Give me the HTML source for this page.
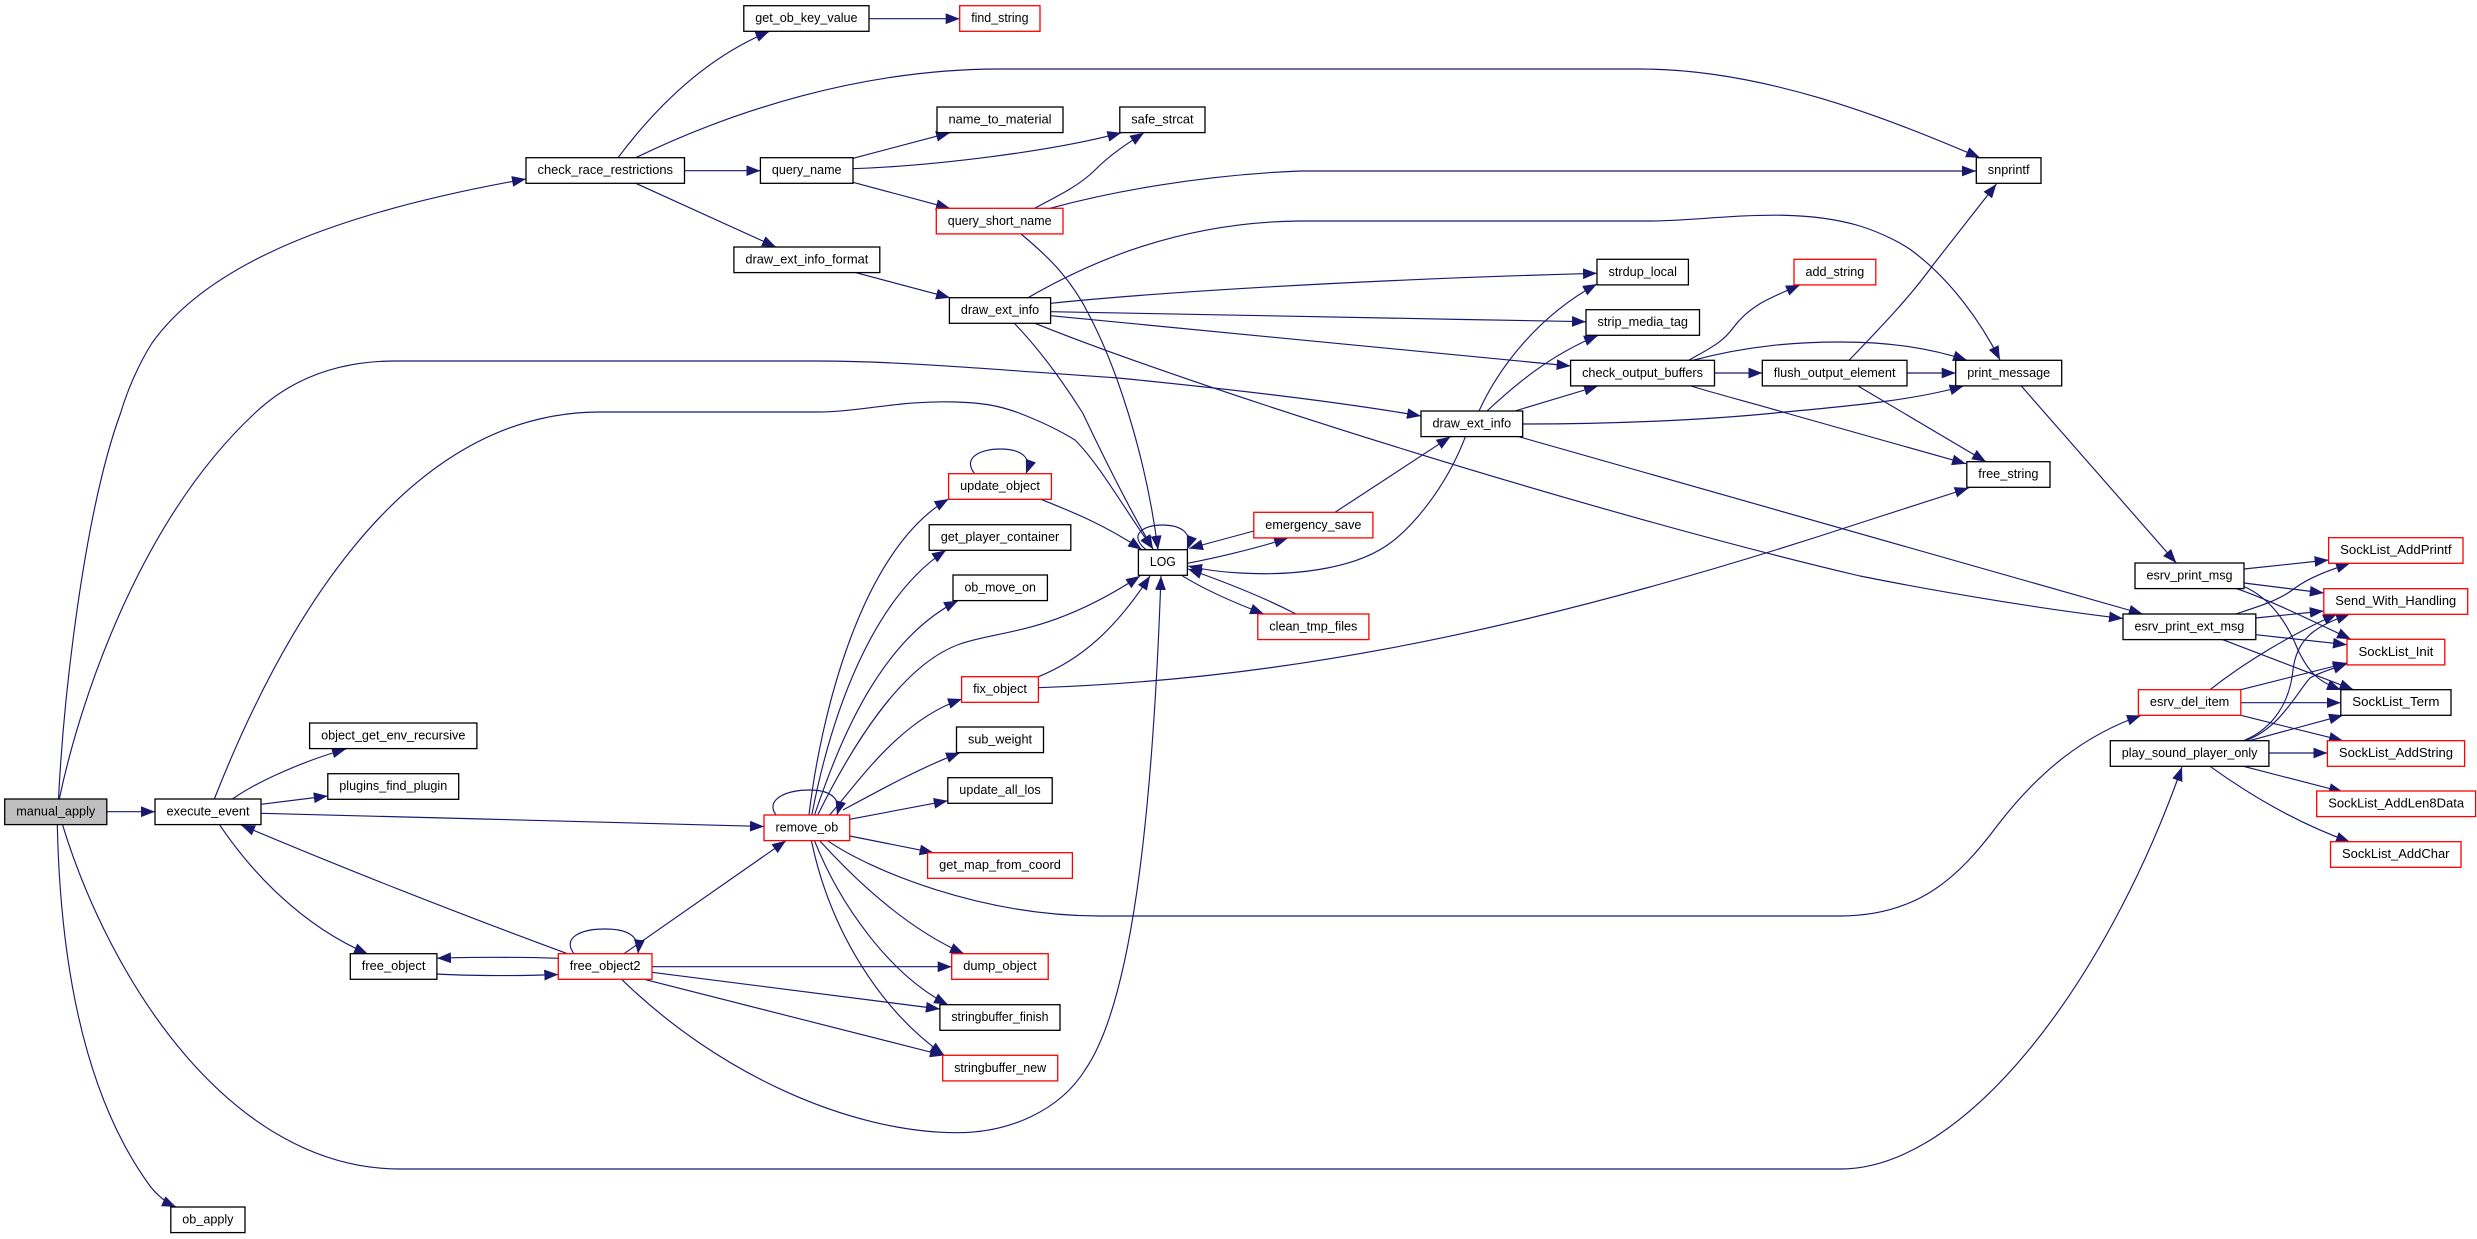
<!DOCTYPE html>
<html><head><meta charset="utf-8"><title>manual_apply call graph</title>
<style>
html,body{margin:0;padding:0;background:#fff}
svg{display:block}
.n rect{fill:#fff;stroke:#000;stroke-width:1.3}
.n rect.r{stroke:#f00}
.n rect.g{fill:#bfbfbf}
.n text{font-family:"Liberation Sans",sans-serif;font-size:13px;fill:#000}
</style></head><body>
<svg xmlns="http://www.w3.org/2000/svg" width="2477" height="1239" viewBox="0 0 2477 1239">
<defs><marker id="a" markerUnits="userSpaceOnUse" markerWidth="15" markerHeight="12" refX="14" refY="5.4" orient="auto"><polygon points="0,0 14,5.4 0,10.8" fill="#191970"/></marker></defs>
<rect width="2477" height="1239" fill="#fff"/>
<g fill="none" stroke="#191970" stroke-width="1.15" marker-end="url(#a)">
<path d="M58.5,799C64,690 85,510 120.6,413C128,388 140,362 152,343C210,262 340,212 526,179"/>
<path d="M59.3,799C80,700 140,520 255,413C290,380 335,361 395,361L817,361C900,361 1000,370 1118,378C1240,390 1340,402 1421,416"/>
<path d="M106.8,811.7L155,811.7"/>
<path d="M57.3,824.7C60,950 80,1090 150,1186C157,1195 165,1202 176,1207"/>
<path d="M62.5,824.7C110,980 230,1169 400,1169L1840,1169C1965,1169 2105,985 2182,767"/>
<path d="M214.3,799C275,645 395,412 600,412L817,412C860,412 900,400 956,402C985,403 1000,406 1019,413C1045,423 1062,432 1075,440C1100,465 1125,510 1153,549"/>
<path d="M232.5,799C255,783 300,762 346,749"/>
<path d="M261,804.3L327.8,796"/>
<path d="M261,813.3C420,817 620,823 764,826.5"/>
<path d="M219.5,824.7C250,870 300,925 368,954"/>
<path d="M567.4,953.7Q395,890 241,825"/>
<path d="M437,974C470,976 520,976 558.3,974.5"/>
<path d="M558.3,958.3C520,957 470,957 437,958.3"/>
<path d="M574,953.7C562,938 580,929 605,929C625,929 640,934 638,953.7"/>
<path d="M624,953.7L786,840.7"/>
<path d="M652,966.7L951.7,966.7"/>
<path d="M652,972.3L939.9,1009"/>
<path d="M645.7,979.7L944,1055.5"/>
<path d="M622,979.7C720,1075 850,1132 956,1132.7C1010,1133 1060,1110 1085,1070C1130,1005 1152,830 1161,576"/>
<path d="M776,815C765,800 785,790 810,790C828,790 842,797 837,815"/>
<path d="M809,815C820,720 860,550 948.6,499"/>
<path d="M811.8,815C830,720 870,600 946,550.3"/>
<path d="M814.5,815C840,740 880,640 958,600.7"/>
<path d="M817.7,815C850,750 900,665 960,644C1000,630 1050,635 1140,576"/>
<path d="M829.6,815C860,780 900,720 962,699"/>
<path d="M843,810C880,790 920,768 960,752.7"/>
<path d="M849.7,819.3L947.8,800.7"/>
<path d="M849.7,836L933.6,852.7"/>
<path d="M827.6,840.7C870,870 980,916 1100,916L1840,916C1920,916 1960,875 1997,826C2040,770 2085,735 2141,715.5"/>
<path d="M819.7,840.7C860,885 910,930 964,953.7"/>
<path d="M814.5,840.7C840,905 890,975 948,1004.7"/>
<path d="M811.4,840.7C830,930 880,1010 944,1055"/>
<path d="M974.7,473.7C962,458 980,449 1000,449C1018,449 1033,455 1026,473.7"/>
<path d="M1041,499.3C1075,513 1105,525 1142,549.7"/>
<path d="M1038.4,676.7C1080,660 1115,630 1150,576"/>
<path d="M1038.4,687.7C1250,680 1490,645 1860,523L1968.7,488"/>
<path d="M1146,549.7C1128,535 1143,525 1162,525C1178,525 1194,531 1187,549.7"/>
<path d="M1187.4,563.3C1210,559 1255,549 1288,538"/>
<path d="M1253.8,531L1189,548.5"/>
<path d="M1181.5,575.3C1205,590 1235,603 1264,614"/>
<path d="M1296,614C1265,598 1225,582 1188,569"/>
<path d="M1465.4,436.7C1445,490 1410,530 1386,546C1350,570 1290,576 1240,573C1220,572 1205,570 1188,566"/>
<path d="M1335,512.3L1450.4,436.7"/>
<path d="M1014,323C1040,350 1065,385 1082.7,413C1105,460 1130,510 1153,549"/>
<path d="M1021,234C1050,258 1072,280 1090,316.7C1115,365 1145,450 1158,549.7"/>
<path d="M1034.4,208.3C1060,195 1080,185 1095,170C1110,155 1125,145 1144,132.7"/>
<path d="M1050,208.3C1110,192 1200,175 1300,171L1976,171"/>
<path d="M853,182.3L950,208.3"/>
<path d="M853,158.3L950,132.7"/>
<path d="M853,168.7C930,166 1050,152 1121.4,132.7"/>
<path d="M684.5,170.7L760.4,170.7"/>
<path d="M618,157.7C650,115 700,60 769.5,31.3"/>
<path d="M869,18.7L959.7,18.7"/>
<path d="M635.8,157.7C730,112 860,69 1000,69L1640,69C1760,69 1880,115 1980,157.7"/>
<path d="M635.8,183.3L776,247"/>
<path d="M856,272.7L950,297.7"/>
<path d="M1028,297.7C1090,262 1180,222 1300,221L1650,221C1710,221 1790,205 1860,226C1885,234 1905,245 1915,253C1950,280 1980,320 2000,360"/>
<path d="M1050.6,303.3C1150,293 1350,280 1597,273.3"/>
<path d="M1050.6,311.7C1200,316 1400,318 1586,321.7"/>
<path d="M1050.6,315.7L1570.6,366"/>
<path d="M1035,323.3C1200,390 1600,515 1860,576C1950,594 2050,610 2123,618.5"/>
<path d="M1518.8,436.7L2142.8,614"/>
<path d="M1522.7,424C1600,424 1700,421 1785,412C1850,406 1915,400 1963.6,386"/>
<path d="M1691,386C1720,395 1760,405 1786,413L1966,463.7"/>
<path d="M1858,386L1986,461.7"/>
<path d="M1479,411C1500,365 1540,315 1597,284"/>
<path d="M1487,411C1515,385 1550,355 1598,335.5"/>
<path d="M1514.8,411L1598,386"/>
<path d="M1714.5,373L1762.3,373"/>
<path d="M1688.8,360.3C1710,348 1722,343 1733,328C1750,305 1770,298 1800,285"/>
<path d="M1692.8,360.3C1750,345 1800,342 1840,342C1890,342 1930,348 1967,360.3"/>
<path d="M1907,373L1955.7,373"/>
<path d="M1849,360.3C1880,328 1910,297 1933,265L1996.4,184"/>
<path d="M2021.3,386L2176.3,563"/>
<path d="M2244,569L2328.6,560"/>
<path d="M2244,583L2323.8,593"/>
<path d="M2235.6,588.3C2270,600 2310,620 2351,639.3"/>
<path d="M2243,586C2275,600 2290,630 2298,650C2310,675 2320,682 2341,690"/>
<path d="M2235.6,614C2260,606 2280,600 2295,588C2310,577 2330,570 2350,563.3"/>
<path d="M2255.8,618L2323.8,611"/>
<path d="M2255.8,634.7L2347,644.7"/>
<path d="M2221.8,639.3L2353.5,689.7"/>
<path d="M2210,689.7C2245,662 2290,635 2337,614"/>
<path d="M2240.8,689.7L2347,663"/>
<path d="M2240.8,702.7L2340.8,702.7"/>
<path d="M2240.8,715.3L2343,740.7"/>
<path d="M2243.5,740.7C2275,728 2290,700 2293,670C2297,635 2320,625 2350,614"/>
<path d="M2245.5,740.7C2280,728 2295,695 2310,678C2320,672 2335,668 2347,663.7"/>
<path d="M2249.5,740.7L2343,715.3"/>
<path d="M2268.9,753L2327.4,753"/>
<path d="M2243.5,766.3L2343,792"/>
<path d="M2210,766.3C2250,795 2295,822 2350,842"/>
</g>
<g class="n">
<rect x="526" y="157.7" width="158.5" height="25.6"/><text x="537.5" y="174.2" textLength="135.5" lengthAdjust="spacingAndGlyphs">check_race_restrictions</text>
<rect x="743.8" y="5.7" width="125.2" height="25.6"/><text x="755.3" y="22.2" textLength="102.2" lengthAdjust="spacingAndGlyphs">get_ob_key_value</text>
<rect class="r" x="959.7" y="5.7" width="80.3" height="25.6"/><text x="971.2" y="22.2" textLength="57.3" lengthAdjust="spacingAndGlyphs">find_string</text>
<rect x="937" y="107" width="126" height="25.6"/><text x="948.5" y="123.5" textLength="103" lengthAdjust="spacingAndGlyphs">name_to_material</text>
<rect x="1119.8" y="107" width="85.2" height="25.6"/><text x="1131.3" y="123.5" textLength="62.2" lengthAdjust="spacingAndGlyphs">safe_strcat</text>
<rect x="760.4" y="157.7" width="92.6" height="25.6"/><text x="771.9" y="174.2" textLength="69.6" lengthAdjust="spacingAndGlyphs">query_name</text>
<rect class="r" x="936.3" y="208.3" width="126.7" height="25.6"/><text x="947.8" y="224.8" textLength="103.7" lengthAdjust="spacingAndGlyphs">query_short_name</text>
<rect x="733.9" y="247" width="145.9" height="25.6"/><text x="745.4" y="263.5" textLength="122.9" lengthAdjust="spacingAndGlyphs">draw_ext_info_format</text>
<rect x="949.4" y="297.7" width="101.2" height="25.6"/><text x="960.9" y="314.2" textLength="78.2" lengthAdjust="spacingAndGlyphs">draw_ext_info</text>
<rect x="1597" y="259.3" width="91.4" height="25.6"/><text x="1608.5" y="275.8" textLength="68.4" lengthAdjust="spacingAndGlyphs">strdup_local</text>
<rect x="1586" y="309.7" width="113.5" height="25.6"/><text x="1597.5" y="326.2" textLength="90.5" lengthAdjust="spacingAndGlyphs">strip_media_tag</text>
<rect x="1570.6" y="360.3" width="143.9" height="25.6"/><text x="1582.1" y="376.8" textLength="120.9" lengthAdjust="spacingAndGlyphs">check_output_buffers</text>
<rect x="1762.3" y="360.3" width="144.7" height="25.6"/><text x="1773.8" y="376.8" textLength="121.7" lengthAdjust="spacingAndGlyphs">flush_output_element</text>
<rect class="r" x="1794" y="259.3" width="81.8" height="25.6"/><text x="1805.5" y="275.8" textLength="58.8" lengthAdjust="spacingAndGlyphs">add_string</text>
<rect x="1421" y="411" width="101.7" height="25.6"/><text x="1432.5" y="427.5" textLength="78.7" lengthAdjust="spacingAndGlyphs">draw_ext_info</text>
<rect x="1976.3" y="157.7" width="64.7" height="25.6"/><text x="1987.8" y="174.2" textLength="41.7" lengthAdjust="spacingAndGlyphs">snprintf</text>
<rect x="1955.7" y="360.3" width="106" height="25.6"/><text x="1967.2" y="376.8" textLength="83" lengthAdjust="spacingAndGlyphs">print_message</text>
<rect x="1966.8" y="461.7" width="83.2" height="25.6"/><text x="1978.3" y="478.2" textLength="60.2" lengthAdjust="spacingAndGlyphs">free_string</text>
<rect x="2135" y="563" width="109" height="25.6"/><text x="2146.5" y="579.5" textLength="86" lengthAdjust="spacingAndGlyphs">esrv_print_msg</text>
<rect x="2123" y="614" width="132.8" height="25.6"/><text x="2134.5" y="630.5" textLength="109.8" lengthAdjust="spacingAndGlyphs">esrv_print_ext_msg</text>
<rect class="r" x="2138.4" y="689.7" width="102.4" height="25.6"/><text x="2149.9" y="706.2" textLength="79.4" lengthAdjust="spacingAndGlyphs">esrv_del_item</text>
<rect x="2110.3" y="740.7" width="158.6" height="25.6"/><text x="2121.8" y="757.2" textLength="135.6" lengthAdjust="spacingAndGlyphs">play_sound_player_only</text>
<rect class="r" x="2328.6" y="537.7" width="134.4" height="25.6"/><text x="2340.1" y="554.2" textLength="111.4" lengthAdjust="spacingAndGlyphs">SockList_AddPrintf</text>
<rect class="r" x="2323.8" y="588.7" width="143.9" height="25.6"/><text x="2335.3" y="605.2" textLength="120.9" lengthAdjust="spacingAndGlyphs">Send_With_Handling</text>
<rect class="r" x="2347" y="639.3" width="97.8" height="25.6"/><text x="2358.5" y="655.8" textLength="74.8" lengthAdjust="spacingAndGlyphs">SockList_Init</text>
<rect x="2340.8" y="689.7" width="110.2" height="25.6"/><text x="2352.3" y="706.2" textLength="87.2" lengthAdjust="spacingAndGlyphs">SockList_Term</text>
<rect class="r" x="2327.4" y="740.7" width="137.2" height="25.6"/><text x="2338.9" y="757.2" textLength="114.2" lengthAdjust="spacingAndGlyphs">SockList_AddString</text>
<rect class="r" x="2316.7" y="791" width="158.9" height="25.6"/><text x="2328.2" y="807.5" textLength="135.9" lengthAdjust="spacingAndGlyphs">SockList_AddLen8Data</text>
<rect class="r" x="2330.5" y="841.7" width="130.5" height="25.6"/><text x="2342" y="858.2" textLength="107.5" lengthAdjust="spacingAndGlyphs">SockList_AddChar</text>
<rect class="g" x="4.7" y="799" width="102.1" height="25.6"/><text x="16.2" y="815.5" textLength="79.1" lengthAdjust="spacingAndGlyphs">manual_apply</text>
<rect x="155" y="799" width="106" height="25.6"/><text x="166.5" y="815.5" textLength="83" lengthAdjust="spacingAndGlyphs">execute_event</text>
<rect x="309.6" y="723" width="167.3" height="25.6"/><text x="321.1" y="739.5" textLength="144.3" lengthAdjust="spacingAndGlyphs">object_get_env_recursive</text>
<rect x="327.8" y="773.7" width="130.9" height="25.6"/><text x="339.3" y="790.2" textLength="107.9" lengthAdjust="spacingAndGlyphs">plugins_find_plugin</text>
<rect class="r" x="948.6" y="473.7" width="102.8" height="25.6"/><text x="960.1" y="490.2" textLength="79.8" lengthAdjust="spacingAndGlyphs">update_object</text>
<rect x="929.2" y="524.7" width="141.6" height="25.6"/><text x="940.7" y="541.2" textLength="118.6" lengthAdjust="spacingAndGlyphs">get_player_container</text>
<rect x="953" y="575" width="94.4" height="25.6"/><text x="964.5" y="591.5" textLength="71.4" lengthAdjust="spacingAndGlyphs">ob_move_on</text>
<rect class="r" x="961.6" y="676.7" width="76.8" height="25.6"/><text x="973.1" y="693.2" textLength="53.8" lengthAdjust="spacingAndGlyphs">fix_object</text>
<rect x="956.5" y="727" width="87" height="25.6"/><text x="968" y="743.5" textLength="64" lengthAdjust="spacingAndGlyphs">sub_weight</text>
<rect x="947.8" y="777.7" width="104.4" height="25.6"/><text x="959.3" y="794.2" textLength="81.4" lengthAdjust="spacingAndGlyphs">update_all_los</text>
<rect x="1138.4" y="549.7" width="49" height="25.6"/><text x="1149.9" y="566.2" textLength="26" lengthAdjust="spacingAndGlyphs">LOG</text>
<rect class="r" x="764" y="815" width="85.7" height="25.6"/><text x="775.5" y="831.5" textLength="62.7" lengthAdjust="spacingAndGlyphs">remove_ob</text>
<rect class="r" x="1253.8" y="512.3" width="119.1" height="25.6"/><text x="1265.3" y="528.8" textLength="96.1" lengthAdjust="spacingAndGlyphs">emergency_save</text>
<rect class="r" x="1257.8" y="614" width="111.1" height="25.6"/><text x="1269.3" y="630.5" textLength="88.1" lengthAdjust="spacingAndGlyphs">clean_tmp_files</text>
<rect x="350.3" y="953.7" width="86.6" height="25.6"/><text x="361.8" y="970.2" textLength="63.6" lengthAdjust="spacingAndGlyphs">free_object</text>
<rect class="r" x="558.3" y="953.7" width="93.7" height="25.6"/><text x="569.8" y="970.2" textLength="70.7" lengthAdjust="spacingAndGlyphs">free_object2</text>
<rect x="170.8" y="1207" width="74.2" height="25.6"/><text x="182.3" y="1223.5" textLength="51.2" lengthAdjust="spacingAndGlyphs">ob_apply</text>
<rect class="r" x="927.6" y="852.7" width="144.8" height="25.6"/><text x="939.1" y="869.2" textLength="121.8" lengthAdjust="spacingAndGlyphs">get_map_from_coord</text>
<rect class="r" x="951.7" y="953.7" width="96.5" height="25.6"/><text x="963.2" y="970.2" textLength="73.5" lengthAdjust="spacingAndGlyphs">dump_object</text>
<rect x="939.9" y="1004.7" width="120.1" height="25.6"/><text x="951.4" y="1021.2" textLength="97.1" lengthAdjust="spacingAndGlyphs">stringbuffer_finish</text>
<rect class="r" x="942.7" y="1055.3" width="115" height="25.6"/><text x="954.2" y="1071.8" textLength="92" lengthAdjust="spacingAndGlyphs">stringbuffer_new</text>
</g>
</svg>
</body></html>
